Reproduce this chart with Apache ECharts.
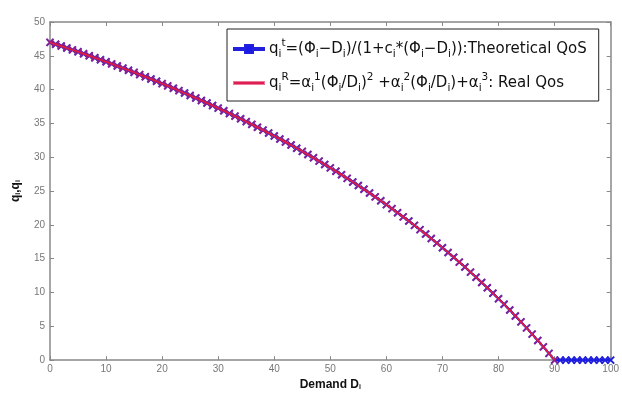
<!DOCTYPE html>
<html><head><meta charset="utf-8">
<script src="https://cdn.jsdelivr.net/npm/echarts@6/dist/echarts.min.js"></script>
<style>html,body{margin:0;padding:0;background:#fff}#c{width:622px;height:396px}</style>
</head><body><div id="c"></div>
<script>
const demand = [0,1,2,3,4,5,6,7,8,9,10,11,12,13,14,15,16,17,18,19,20,21,22,23,24,25,26,27,28,29,30,31,32,33,34,35,36,37,38,39,40,41,42,43,44,45,46,47,48,49,50,51,52,53,54,55,56,57,58,59,60,61,62,63,64,65,66,67,68,69,70,71,72,73,74,75,76,77,78,79,80,81,82,83,84,85,86,87,88,89,90,91,92,93,94,95,96,97,98,99,100];
const theoreticalQoS = [
46.99,46.72,46.44,46.16,45.88,45.59,45.30,45.01,44.71,44.41,
44.11,43.81,43.50,43.18,42.87,42.55,42.22,41.90,41.57,41.23,
40.89,40.55,40.20,39.85,39.49,39.13,38.77,38.40,38.02,37.65,
37.26,36.88,36.48,36.08,35.68,35.27,34.86,34.44,34.01,33.58,
33.15,32.70,32.25,31.80,31.34,30.87,30.40,29.92,29.43,28.93,
28.43,27.92,27.41,26.88,26.35,25.81,25.26,24.71,24.14,23.57,
22.99,22.40,21.79,21.18,20.56,19.93,19.29,18.64,17.98,17.30,
16.62,15.92,15.21,14.49,13.76,13.01,12.26,11.48,10.69,9.89,
9.08,8.25,7.40,6.53,5.65,4.76,3.84,2.91,1.96,0.99,
0,0,0,0,0,0,0,0,0,0,0];
const realQoS = [
46.99,46.72,46.44,46.16,45.88,45.59,45.30,45.01,44.71,44.41,
44.11,43.81,43.50,43.18,42.87,42.55,42.22,41.90,41.57,41.23,
40.89,40.55,40.20,39.85,39.49,39.13,38.77,38.40,38.02,37.65,
37.26,36.88,36.48,36.08,35.68,35.27,34.86,34.44,34.01,33.58,
33.15,32.70,32.25,31.80,31.34,30.87,30.40,29.92,29.43,28.93,
28.43,27.92,27.41,26.88,26.35,25.81,25.26,24.71,24.14,23.57,
22.99,22.40,21.79,21.18,20.56,19.93,19.29,18.64,17.98,17.30,
16.62,15.92,15.21,14.49,13.76,13.01,12.26,11.48,10.69,9.89,
9.08,8.25,7.40,6.53,5.65,4.76,3.84,2.91,1.96,0.99,
0];
const seriesNames = ['Theoretical', 'Real'];
const legendLabels = {
  'Theoretical': 'q{sub|i}{sup|t}=(Φ{sub|i}−D{sub|i})/(1+c{sub|i}*(Φ{sub|i}−D{sub|i})):Theoretical QoS',
  'Real': 'q{sub|i}{sup|R}=α{sub|i}{sup|1}(Φ{sub|i}/D{sub|i}){sup|2} +α{sub|i}{sup|2}(Φ{sub|i}/D{sub|i})+α{sub|i}{sup|3}: Real Qos'
};
const xLabel = 'Demand D{sub|i}';
const yLabel = 'q{sub|i},q{sub|i}';

const FONT = 'Liberation Sans, Arial, sans-serif';
const LFONT = 'DejaVu Sans, sans-serif';
const rich = {
  sub: {fontSize: 10.5, lineHeight: 10, verticalAlign: 'bottom', fontFamily: LFONT, color: '#111'},
  sup: {fontSize: 10.5, lineHeight: 10, verticalAlign: 'top', fontFamily: LFONT, color: '#111'}
};
const richBold = {
  sub: {fontSize: 7, lineHeight: 7, verticalAlign: 'bottom', fontFamily: FONT, fontWeight: 'bold', color: '#111'}
};
const crossPath = 'path://M0,0L10,10M10,0L0,10';
const tickColor = '#888';

const chart = echarts.init(document.getElementById('c'), null, {renderer: 'canvas'});
const baseAxis = {
  min: 0,
  axisLine: {show: true, onZero: false, lineStyle: {color: tickColor, width: 1.5}},
  axisTick: {show: true, inside: true, length: 4, lineStyle: {color: tickColor}},
  splitLine: {show: false}
};
chart.setOption({
  animation: false,
  backgroundColor: '#fff',
  grid: {left: 50, right: 11, top: 22, bottom: 33},
  xAxis: [
    Object.assign({}, baseAxis, {
      type: 'value', max: 100, interval: 10, position: 'bottom',
      axisLabel: {color: '#777', fontSize: 10, fontFamily: FONT, margin: 4},
      name: xLabel, nameLocation: 'middle', nameGap: 16,
      nameTextStyle: {fontSize: 12, fontWeight: 'bold', fontFamily: FONT, color: '#111', rich: richBold}
    }),
    Object.assign({}, baseAxis, {
      type: 'value', max: 100, interval: 10, position: 'top', axisLabel: {show: false}
    })
  ],
  yAxis: [
    Object.assign({}, baseAxis, {
      type: 'value', max: 50, interval: 5, position: 'left',
      axisLabel: {color: '#777', fontSize: 10, fontFamily: FONT, margin: 5},
      name: yLabel, nameLocation: 'middle', nameGap: 28,
      nameTextStyle: {fontSize: 12, fontWeight: 'bold', fontFamily: FONT, color: '#111', rich: richBold}
    }),
    Object.assign({}, baseAxis, {
      type: 'value', max: 50, interval: 5, position: 'right', axisLabel: {show: false}
    })
  ],
  legend: {
    orient: 'vertical',
    left: 227, top: 29,
    padding: [9, 12, 7, 6],
    itemGap: 12,
    itemWidth: 30, itemHeight: 8,
    borderColor: '#222', borderWidth: 1,
    backgroundColor: '#fff',
    data: [
      {name: seriesNames[0], icon: 'path://M0,3H11V0H19V3H30V5H19V8H11V5H0Z'},
      {name: seriesNames[1], icon: 'path://M0,3H30V5H0Z'}
    ],
    formatter: n => legendLabels[n],
    textStyle: {fontSize: 15, fontFamily: LFONT, color: '#111', lineHeight: 22, rich: rich}
  },
  series: [
    {
      name: seriesNames[0], type: 'line', xAxisIndex: 0, yAxisIndex: 0,
      data: demand.map((d, i) => [d, theoreticalQoS[i]]),
      symbol: crossPath, symbolSize: 7, showAllSymbol: true,
      lineStyle: {color: '#1a1ae6', width: 2},
      itemStyle: {color: '#1a1ae6', borderColor: '#2020dd', borderWidth: 2},
      z: 2
    },
    {
      name: seriesNames[1], type: 'line', xAxisIndex: 0, yAxisIndex: 0,
      data: realQoS.map((v, i) => [demand[i], v]),
      symbol: crossPath, symbolSize: 7, showAllSymbol: true,
      lineStyle: {color: '#ee1c2a', width: 1.5},
      itemStyle: {color: '#e0205a', borderColor: 'rgba(220,30,80,0.6)', borderWidth: 1.5},
      z: 3
    }
  ]
});
</script></body></html>
